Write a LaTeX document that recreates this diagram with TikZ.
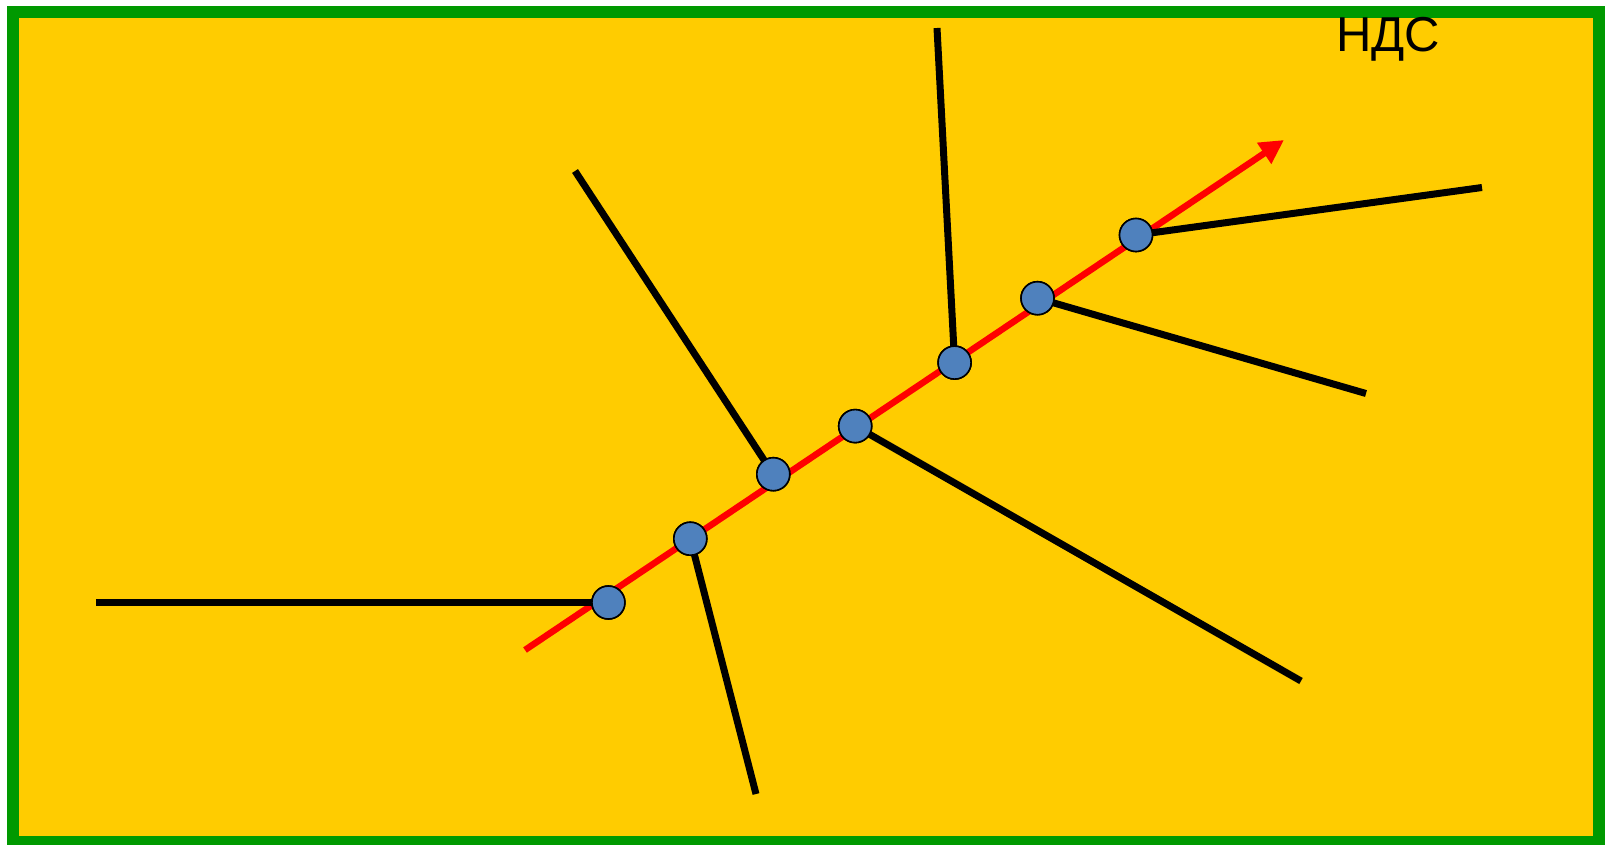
\documentclass[tikz,border=0pt]{standalone}
\usepackage{fontspec}
\setmainfont{Liberation Sans}
\usetikzlibrary{arrows.meta}
\definecolor{bg}{HTML}{FFCC00}
\definecolor{frame}{HTML}{009900}
\definecolor{dot}{HTML}{4F81BD}
\tikzset{
  branch/.style={line width=7pt, black},
  axis/.style={line width=6.5pt, red, -{Triangle[length=24pt,width=24pt]}},
  joint/.style={circle, draw=black, line width=1.6pt, fill=dot, minimum size=33pt, inner sep=0pt},
}
\begin{document}
\begin{tikzpicture}[x=1pt,y=-1pt]
\useasboundingbox (0,0) rectangle (1606,844);
\fill[white] (0,0) rectangle (1606,844);
\draw[fill=bg, draw=frame, line width=12pt] (13,11.5) rectangle (1598.5,842);
\node[anchor=center, font=\fontsize{49pt}{55pt}\selectfont] (lbl) at (1388,39) {НДС};
\coordinate (s) at (525,650);
\coordinate (t) at (1284,140);
\coordinate (e1) at (96,602.5);
\coordinate (e2) at (756,794);
\coordinate (e3) at (575,171);
\coordinate (e4) at (1301,681);
\coordinate (e5) at (937,28);
\coordinate (e6) at (1366,393.5);
\coordinate (e7) at (1482,187.5);
\draw[axis] (s) -- (t);
\node[joint] (c1) at (608.4,602.5) {};
\node[joint] (c2) at (690.3,538.7) {};
\node[joint] (c3) at (773.3,474.2) {};
\node[joint] (c4) at (855.2,426.1) {};
\node[joint] (c5) at (954.6,362.6) {};
\node[joint] (c6) at (1037.5,298.2) {};
\node[joint] (c7) at (1136,235) {};
\draw[branch] (c1.center) -- (e1);
\draw[branch] (c2.center) -- (e2);
\draw[branch] (c3.center) -- (e3);
\draw[branch] (c4.center) -- (e4);
\draw[branch] (c5.center) -- (e5);
\draw[branch] (c6.center) -- (e6);
\draw[branch] (c7.center) -- (e7);
\foreach \c in {c1,c2,c3,c4,c5,c6,c7}
  \node[joint] at (\c) {};
\end{tikzpicture}
\end{document}
